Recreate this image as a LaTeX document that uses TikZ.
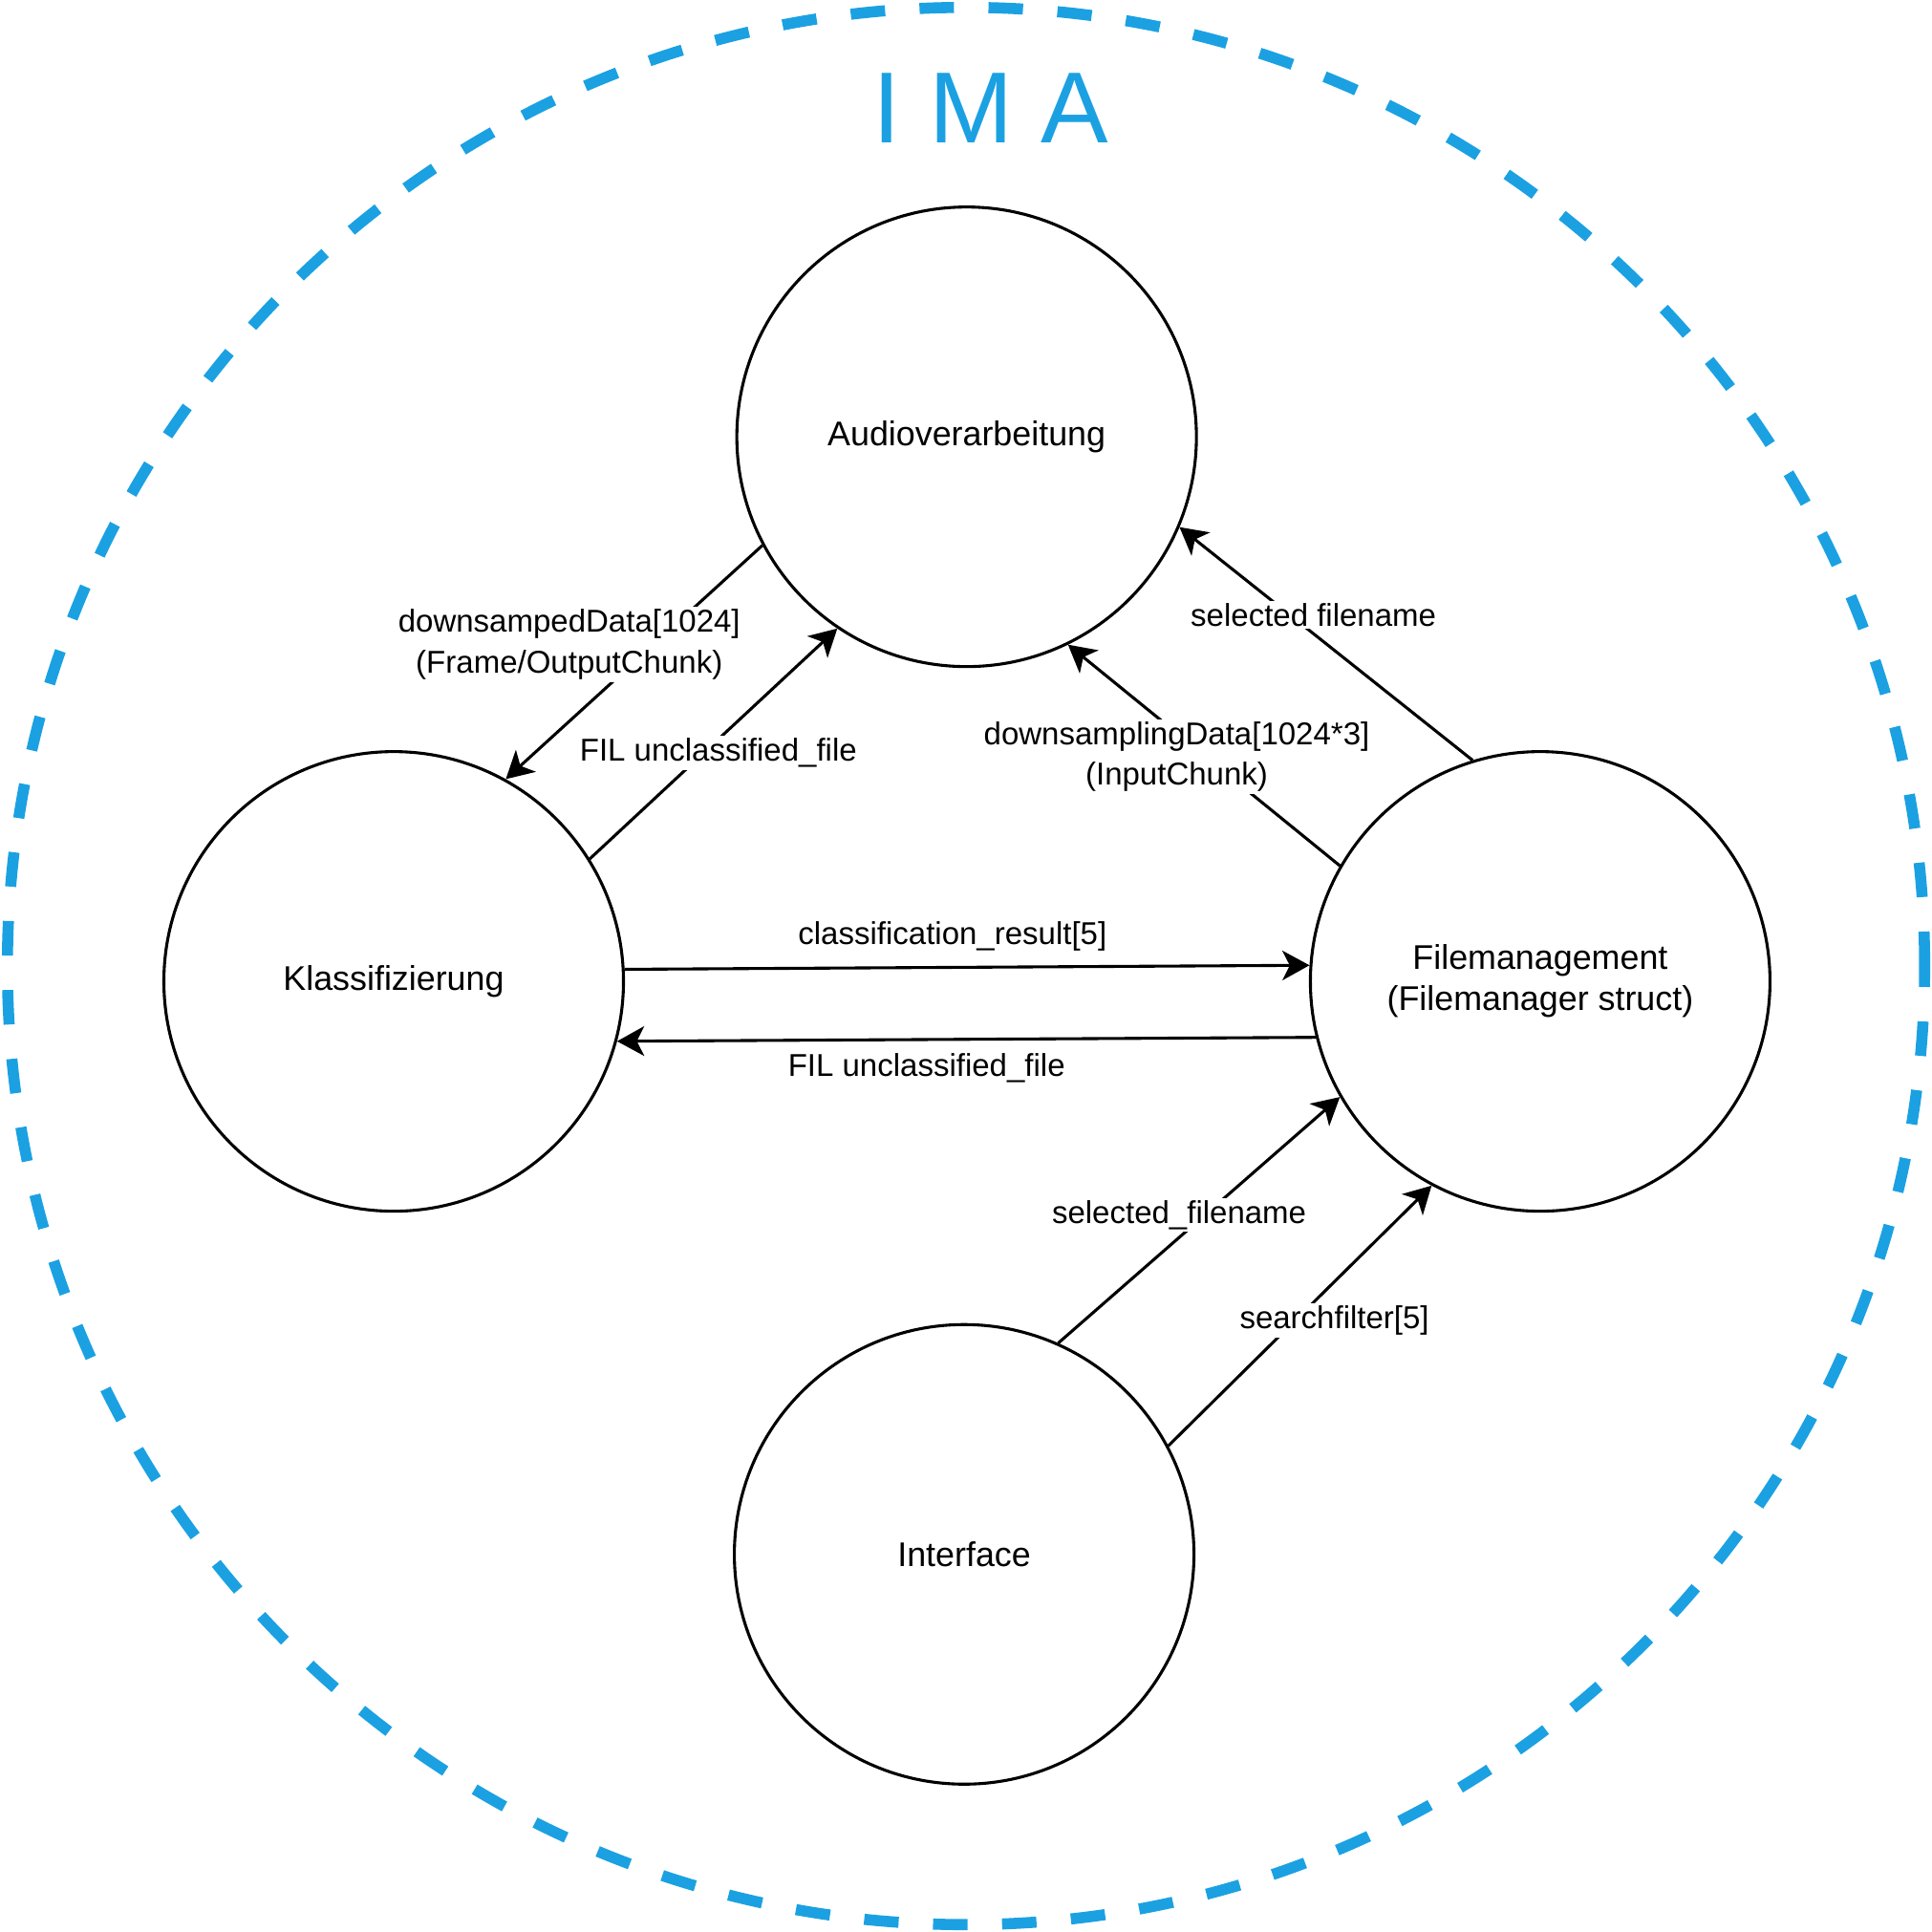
\documentclass[tikz,border=0pt]{standalone}
\usepackage{fontspec}
\setmainfont{Liberation Sans}
\usetikzlibrary{arrows.meta}
\definecolor{imablue}{HTML}{1BA1E2}

\begin{document}
\begin{tikzpicture}[x=1pt, y=-1pt, >={Stealth[length=22pt, width=24pt, inset=6pt]},
  every node/.style={font=\fontsize{27.8}{33.4}\selectfont},
  proc/.style={draw, circle, line width=2.4pt, minimum size=373pt, inner sep=0pt, align=center},
  flow/.style={->, line width=2.4pt},
  lbl/.style={fill=white, inner sep=2pt, align=center, font=\fontsize{25.6}{33}\selectfont}]

\useasboundingbox (0,0) rectangle (1568,1568);

% dashed system border with the title on top
\draw[imablue, line width=9pt, dash pattern=on 28pt off 28pt] (784,784) circle (778pt);
\node[text=imablue, font=\fontsize{82}{90}\selectfont] (title) at (804,88) {I M A};

% the four processes
\node[proc] (audio) at (784.5,354.5) {Audioverarbeitung};
\node[proc] (klass) at (319.5,796.5) {Klassifizierung};
\node[proc] (files) at (1250,796.5) {Filemanagement\\(Filemanager struct)};
\node[proc] (iface) at (782.5,1261.5) {Interface};

% data flows
\draw[flow] (audio.208) -- (klass.61);
\draw[flow] (klass.32) -- (audio.236);
\draw[flow] (files.107) -- (audio.337);
\draw[flow] (files.150) -- (audio.296);
\draw[flow] (klass.3) -- (files.176);
\draw[flow] (files.194) -- (klass.345);
\draw[flow] (iface.66) -- (files.210.5);
\draw[flow] (iface.28) -- (files.242.5);

% labels on the flows
\node[lbl] (l1) at (462,523) {downsampedData[1024]\\(Frame/OutputChunk)};
\node[lbl] (l2) at (583,611) {FIL unclassified\_file};
\node[lbl] (l3) at (1066,499) {selected filename};
\node[lbl] (l4) at (955,614) {downsamplingData[1024*3]\\(InputChunk)};
\node[lbl] (l5) at (773,760) {classification\_result[5]};
\node[lbl] (l6) at (752,867) {FIL unclassified\_file};
\node[lbl] (l7) at (957,986) {selected\_filename};
\node[lbl] (l8) at (1083,1072) {searchfilter[5]};

\end{tikzpicture}
\end{document}
